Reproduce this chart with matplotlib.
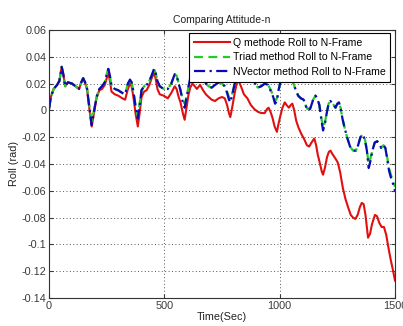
import matplotlib
matplotlib.use("Agg")
import matplotlib.pyplot as plt

plt.rcParams['font.family'] = ['Liberation Sans', 'DejaVu Sans']

# time samples (sec) and roll angle (rad)
t_blue = [0, 8, 20, 35, 45, 55, 62, 70, 82, 100, 115, 130, 140, 148, 157, 165, 175, 185, 195, 206,
          218, 230, 242, 250, 257, 264, 271, 285, 300, 318, 330, 342, 351, 358, 365, 375, 385, 393, 401, 412,
          423, 435, 445, 455, 462, 470, 480, 497, 515, 530, 545, 553, 562, 570, 580, 588, 596, 604, 612, 622,
          632, 641, 655, 668, 680, 692, 705, 720, 735, 750, 762, 772, 780, 786, 795, 805, 815, 830, 850, 870,
          890, 905, 920, 935, 950, 962, 972, 980, 988, 995, 1003, 1015, 1030, 1045, 1058, 1068, 1080, 1092, 1104, 1112,
          1120, 1132, 1145, 1155, 1163, 1172, 1180, 1188, 1196, 1204, 1212, 1220, 1230, 1242, 1250, 1257, 1264, 1272, 1280, 1292,
          1305, 1318, 1330, 1340, 1350, 1360, 1370, 1378, 1386, 1393, 1402, 1412, 1423, 1432, 1440, 1450, 1458, 1466, 1474, 1482,
          1490, 1500]
nvector_roll = [0.001, 0.010, 0.016, 0.019, 0.022, 0.0325, 0.027, 0.018, 0.021, 0.020, 0.018, 0.016, 0.021, 0.024, 0.021, 0.016, 0.002, -0.011, -0.001, 0.010,
                0.016, 0.018, 0.021, 0.027, 0.031, 0.026, 0.018, 0.016, 0.015, 0.013, 0.012, 0.020, 0.023, 0.021, 0.015, 0.003, -0.006, 0.004, 0.015, 0.018,
                0.019, 0.022, 0.026, 0.031, 0.028, 0.022, 0.018, 0.016, 0.016, 0.020, 0.027, 0.026, 0.020, 0.015, 0.006, 0.002, 0.009, 0.017, 0.024, 0.029,
                0.027, 0.025, 0.027, 0.024, 0.020, 0.018, 0.017, 0.019, 0.021, 0.020, 0.018, 0.013, 0.008, 0.006, 0.012, 0.020, 0.025, 0.027, 0.025, 0.022,
                0.021, 0.017, 0.018, 0.020, 0.019, 0.014, 0.010, 0.005, 0.007, 0.015, 0.021, 0.027, 0.028, 0.025, 0.021, 0.016, 0.011, 0.009, 0.008, 0.004,
                0.000, 0.001, 0.008, 0.011, 0.009, 0.004, -0.006, -0.015, -0.010, -0.002, 0.005, 0.007, 0.005, 0.002, 0.005, 0.006, 0.002, -0.006, -0.012, -0.020,
                -0.027, -0.030, -0.030, -0.026, -0.020, -0.018, -0.022, -0.030, -0.043, -0.038, -0.030, -0.024, -0.023, -0.025, -0.028, -0.026, -0.028, -0.036, -0.045, -0.050,
                -0.054, -0.060]
triad_roll = [0.001, 0.010, 0.016, 0.019, 0.022, 0.0325, 0.027, 0.018, 0.021, 0.020, 0.018, 0.016, 0.021, 0.024, 0.021, 0.016, 0.003, -0.008, 0.000, 0.010,
              0.016, 0.018, 0.021, 0.027, 0.031, 0.026, 0.018, 0.016, 0.015, 0.013, 0.012, 0.020, 0.023, 0.021, 0.015, 0.004, -0.004, 0.005, 0.015, 0.018,
              0.019, 0.022, 0.026, 0.031, 0.028, 0.022, 0.018, 0.016, 0.016, 0.020, 0.027, 0.026, 0.020, 0.015, 0.008, 0.005, 0.010, 0.017, 0.024, 0.029,
              0.027, 0.025, 0.027, 0.024, 0.020, 0.018, 0.017, 0.019, 0.021, 0.020, 0.018, 0.014, 0.010, 0.008, 0.013, 0.020, 0.025, 0.027, 0.025, 0.022,
              0.021, 0.017, 0.018, 0.020, 0.019, 0.015, 0.011, 0.007, 0.009, 0.015, 0.021, 0.027, 0.028, 0.025, 0.021, 0.016, 0.011, 0.009, 0.008, 0.004,
              0.001, 0.002, 0.008, 0.011, 0.009, 0.004, -0.005, -0.013, -0.009, -0.002, 0.005, 0.007, 0.005, 0.002, 0.005, 0.006, 0.002, -0.006, -0.012, -0.020,
              -0.027, -0.030, -0.030, -0.026, -0.020, -0.018, -0.022, -0.030, -0.040, -0.036, -0.030, -0.024, -0.023, -0.025, -0.028, -0.026, -0.028, -0.035, -0.043, -0.048,
              -0.052, -0.057]

t_red = [0, 8, 20, 35, 45, 55, 62, 70, 82, 100, 115, 130, 140, 148, 157, 165, 175, 185, 195, 206,
         218, 230, 242, 250, 257, 264, 271, 285, 300, 318, 330, 342, 351, 358, 365, 375, 385, 393, 401, 412,
         423, 435, 445, 455, 462, 470, 480, 497, 515, 530, 545, 553, 562, 570, 580, 588, 596, 604, 612, 622,
         632, 641, 655, 668, 680, 692, 705, 720, 735, 750, 762, 772, 780, 786, 795, 805, 815, 822, 832, 845,
         860, 875, 890, 905, 920, 935, 945, 952, 960, 968, 978, 988, 995, 1003, 1012, 1022, 1030, 1040, 1048, 1055,
         1063, 1072, 1082, 1095, 1105, 1118, 1128, 1138, 1150, 1158, 1165, 1175, 1183, 1188, 1196, 1205, 1213, 1220, 1230, 1242,
         1252, 1262, 1274, 1285, 1296, 1308, 1318, 1328, 1338, 1348, 1356, 1364, 1372, 1383, 1392, 1400, 1413, 1422, 1432, 1442,
         1452, 1462, 1472, 1482, 1492, 1500]
q_roll = [0.001, 0.010, 0.016, 0.019, 0.022, 0.0325, 0.027, 0.018, 0.021, 0.020, 0.018, 0.016, 0.021, 0.024, 0.020, 0.016, 0.001, -0.012, -0.002, 0.009,
          0.015, 0.016, 0.019, 0.024, 0.028, 0.022, 0.014, 0.012, 0.011, 0.009, 0.008, 0.016, 0.020, 0.018, 0.011, -0.002, -0.012, -0.002, 0.010, 0.014,
          0.015, 0.019, 0.024, 0.028, 0.024, 0.016, 0.012, 0.011, 0.009, 0.013, 0.018, 0.016, 0.010, 0.006, -0.002, -0.007, 0.002, 0.011, 0.017, 0.020,
          0.018, 0.016, 0.019, 0.015, 0.012, 0.010, 0.008, 0.007, 0.009, 0.010, 0.009, 0.004, -0.002, -0.005, 0.003, 0.013, 0.021, 0.022, 0.018, 0.012,
          0.009, 0.004, 0.001, -0.001, -0.002, -0.002, 0.001, 0.002, -0.001, -0.005, -0.012, -0.016, -0.010, -0.004, 0.002, 0.006, 0.004, 0.002, 0.004, 0.005,
          0.000, -0.008, -0.013, -0.018, -0.021, -0.026, -0.027, -0.024, -0.021, -0.026, -0.033, -0.040, -0.046, -0.048, -0.043, -0.035, -0.031, -0.030, -0.033, -0.036,
          -0.039, -0.046, -0.058, -0.066, -0.072, -0.078, -0.080, -0.081, -0.078, -0.072, -0.069, -0.070, -0.078, -0.095, -0.092, -0.085, -0.078, -0.079, -0.084, -0.087,
          -0.087, -0.093, -0.103, -0.112, -0.120, -0.127]

x_ticks = [0, 500, 1000, 1500]
y_ticks = [-0.14, -0.12, -0.1, -0.08, -0.06, -0.04, -0.02, 0, 0.02, 0.04, 0.06]
y_tick_labels = ['-0.14', '-0.12', '-0.1', '-0.08', '-0.06', '-0.04', '-0.02', '0', '0.02', '0.04', '0.06']

fig = plt.figure(figsize=(4.03, 3.26), dpi=100)
ax = fig.add_axes([0.1216, 0.0859, 0.8586, 0.8221])

ax.plot(t_red, q_roll, color='#e01010', linewidth=1.5, label='Q methode Roll to N-Frame')
ax.plot(t_blue, triad_roll, color='#22cc22', linewidth=1.6, linestyle=(0, (4, 2.5)), label='Triad method Roll to N-Frame')
ax.plot(t_blue, nvector_roll, color='#0a0ab4', linewidth=1.6, linestyle=(0, (5, 2, 1, 2)), label='NVector method Roll to N-Frame')

ax.set_xlim(0, 1500)
ax.set_ylim(-0.14, 0.06)
ax.set_xticks(x_ticks)
ax.set_xticklabels([str(v) for v in x_ticks])
ax.set_yticks(y_ticks)
ax.set_yticklabels(y_tick_labels)
ax.tick_params(direction='in', top=True, right=True, labelsize=7.8, length=3, pad=2, colors='#3a3a3a')
ax.grid(True, linestyle=(0, (1, 2.5)), color='#555555', linewidth=0.7)
for s in ax.spines.values():
    s.set_color('#333333')
    s.set_linewidth(0.8)

ax.set_title('Comparing Attitude-n', fontsize=7.5, pad=5, color='#222222')
ax.set_xlabel('Time(Sec)', fontsize=7.8, labelpad=1, color='#222222')
ax.set_ylabel('Roll (rad)', fontsize=7.8, labelpad=2, color='#222222')

leg = ax.legend(loc='upper right', bbox_to_anchor=(0.986, 0.989), borderaxespad=0, fontsize=7.6,
                fancybox=False, framealpha=1, edgecolor='black', handlelength=3.4, handletextpad=0.3,
                labelspacing=0.45, borderpad=0.45)
leg.get_frame().set_linewidth(0.8)

fig.savefig('out.png', dpi=100)
